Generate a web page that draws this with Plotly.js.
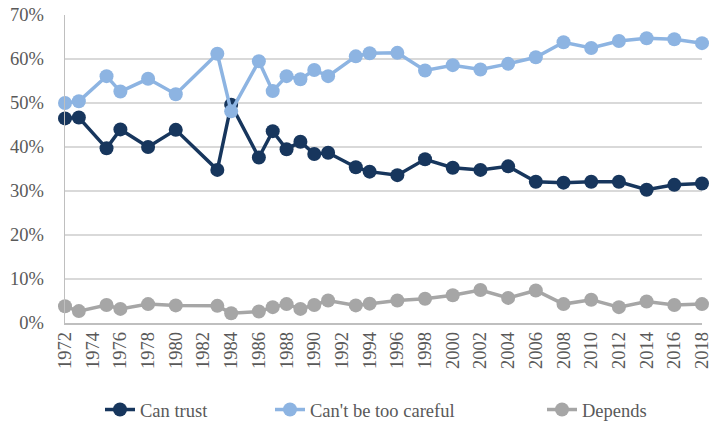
<!DOCTYPE html>
<html>
<head>
<meta charset="utf-8">
<script src="https://cdn.plot.ly/plotly-3.0.1.min.js"></script>
<style>html,body{margin:0;padding:0;background:#fff;}#chart{width:712px;height:428px;}</style>
</head>
<body>
<div id="chart"></div>
<script>
const years = [1972,1973,1975,1976,1978,1980,1983,1984,1986,1987,1988,1989,1990,1991,1993,1994,1996,1998,2000,2002,2004,2006,2008,2010,2012,2014,2016,2018];
const canTrust = [46.5,46.7,39.7,44.0,40.0,43.9,34.8,49.6,37.6,43.6,39.5,41.2,38.4,38.7,35.4,34.4,33.6,37.2,35.3,34.8,35.6,32.1,31.9,32.1,32.1,30.3,31.4,31.7];
const tooCareful = [50.0,50.4,56.1,52.6,55.5,52.0,61.2,48.1,59.5,52.7,56.1,55.4,57.5,56.1,60.6,61.3,61.4,57.4,58.6,57.6,58.9,60.4,63.8,62.5,64.1,64.7,64.5,63.6];
const depends = [3.8,2.7,4.1,3.2,4.3,4.0,3.9,2.2,2.6,3.6,4.3,3.2,4.1,5.1,4.0,4.4,5.1,5.5,6.3,7.5,5.7,7.4,4.3,5.3,3.6,4.9,4.1,4.3];

const toFrac = a => a.map(v => v / 100);
function series(name, vals, color, legendId) {
  return {
    x: years, y: toFrac(vals), name: name, type: 'scatter', mode: 'lines+markers',
    line: {color: color, width: 3.5},
    marker: {color: color, size: 14},
    cliponaxis: false, legend: legendId,
    hoverinfo: 'x+y'
  };
}
const data = [
  series('Can trust', canTrust, '#17365D', 'legend'),
  series("Can't be too careful", tooCareful, '#8DB4E2', 'legend2'),
  series('Depends', depends, '#A6A6A6', 'legend3')
];
const font = {family: 'Liberation Serif, Times New Roman, serif', size: 18.5, color: '#595959'};
function leg(px) {
  return {orientation: 'h', xref: 'container', yref: 'container', x: px / 712, xanchor: 'left',
          y: 18 / 428, yanchor: 'middle', font: font, bgcolor: 'rgba(0,0,0,0)'};
}
const layout = {
  width: 712, height: 428,
  margin: {l: 65, r: 10, t: 15, b: 105},
  paper_bgcolor: '#fff', plot_bgcolor: '#fff',
  font: font,
  showlegend: true,
  legend: leg(100),
  legend2: leg(270),
  legend3: leg(542),
  xaxis: {
    range: [1972, 2018], dtick: 2, tick0: 1972, tickangle: -90,
    showgrid: false, zeroline: false, showline: true, linecolor: '#BFBFBF', linewidth: 1.5,
    ticks: '', tickfont: font, fixedrange: true, automargin: false, ticklabeloverflow: 'allow'
  },
  yaxis: {
    range: [0, 0.7], dtick: 0.1, tickformat: '.0%',
    showgrid: true, gridcolor: '#D9D9D9', gridwidth: 1.5, zeroline: false,
    showline: true, linecolor: '#BFBFBF', linewidth: 1.5,
    ticks: '', tickfont: font, fixedrange: true, automargin: false, ticklabelstandoff: 16
  }
};
Plotly.newPlot('chart', data, layout, {displayModeBar: false, staticPlot: true});
</script>
</body>
</html>
